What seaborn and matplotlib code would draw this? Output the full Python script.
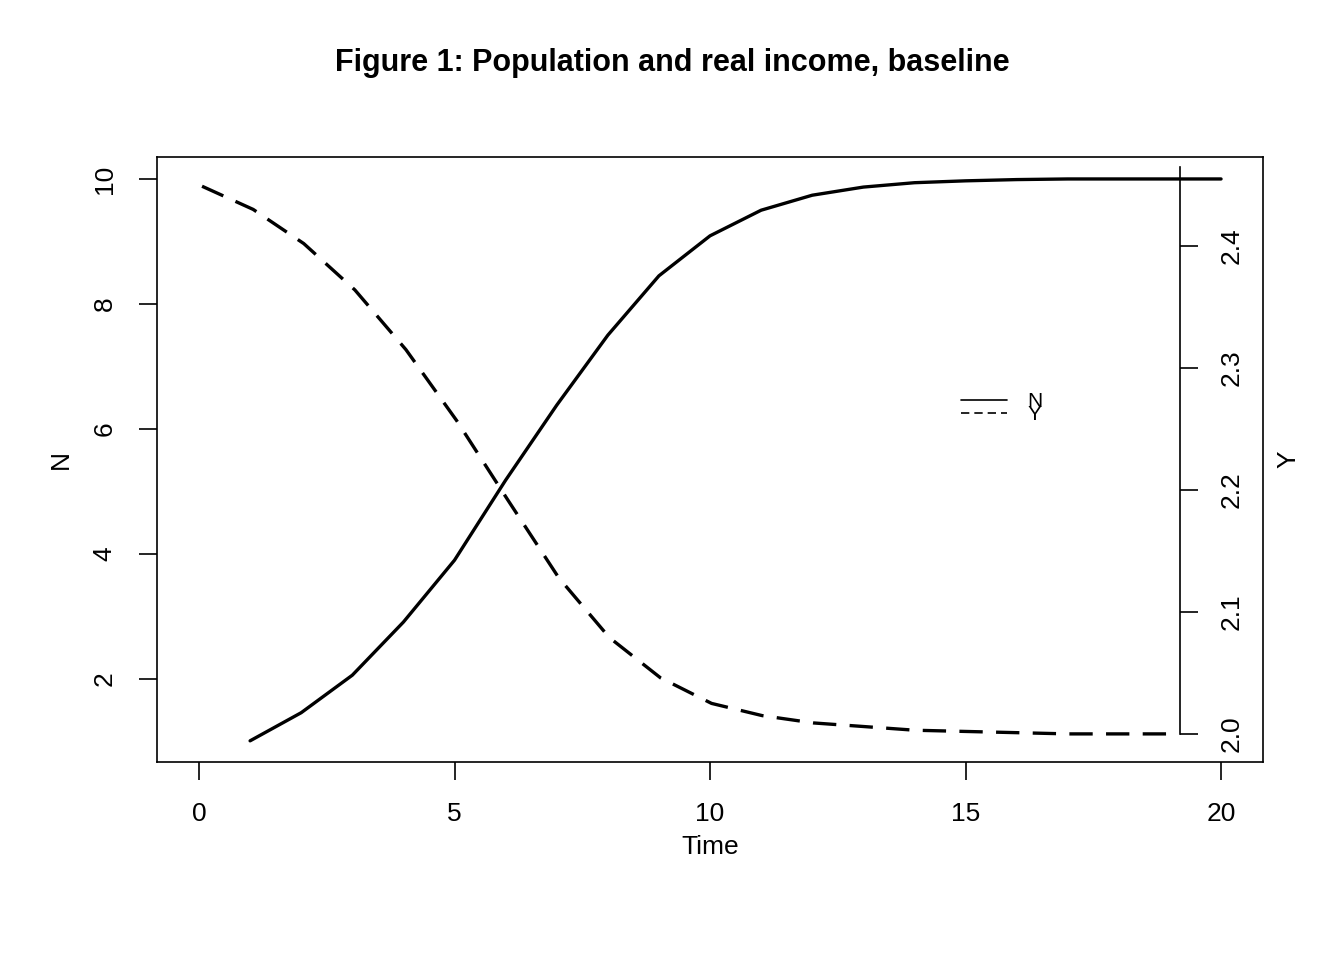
import numpy as np
import pandas as pd
import matplotlib
matplotlib.use("Agg")
import matplotlib.pyplot as plt
import seaborn as sns

# data
time_n = list(range(1, 21))
pop_n = [1.01, 1.46, 2.06, 2.91, 3.90, 5.18, 6.38, 7.50, 8.45, 9.09,
         9.50, 9.74, 9.87, 9.94, 9.97, 9.99, 10.0, 10.0, 10.0, 10.0]
time_y = [0.06, 1.06, 2.05, 3.05, 4.05, 5.04, 6.04, 7.04, 8.03, 9.03,
          10.03, 11.02, 12.02, 13.02, 14.01, 15.01, 16.01, 17.00, 18.00, 19.00]
income_y = [2.449, 2.430, 2.402, 2.364, 2.315, 2.257, 2.192, 2.128, 2.079, 2.046,
            2.025, 2.015, 2.009, 2.006, 2.003, 2.002, 2.001, 2.000, 2.000, 2.000]

sns.set_style("white")
plt.rcParams['font.family'] = ['Liberation Sans', 'DejaVu Sans']
plt.rcParams['font.size'] = 19
plt.rcParams['text.color'] = 'black'
plt.rcParams['axes.labelcolor'] = 'black'
plt.rcParams['xtick.color'] = 'black'
plt.rcParams['ytick.color'] = 'black'

fig = plt.figure(figsize=(13.44, 9.6), dpi=100)
ax = fig.add_axes([0.1168, 0.2063, 0.8229, 0.6302])

df_n = pd.DataFrame({'Time': time_n, 'N': pop_n})
sns.lineplot(data=df_n, x='Time', y='N', ax=ax, color='black', lw=2.4, legend=False)
ax.set_xlim(-0.822, 20.82)
ax.set_ylim(0.672, 10.352)
ax.set_xticks([0, 5, 10, 15, 20])
ax.set_yticks([2, 4, 6, 8, 10])
for lbl in ax.get_yticklabels():
    lbl.set_rotation(90)
    lbl.set_va('center')
ax.tick_params(direction='out', length=13, width=1.2, colors='black', labelsize=19, pad=16)
ax.tick_params(axis='both', which='both', bottom=True, left=True)
for s in ax.spines.values():
    s.set_color('black')
    s.set_linewidth(1.2)
ax.set_xlabel('Time', fontsize=19, labelpad=6)
ax.set_ylabel('N', fontsize=19, labelpad=14)

ax2 = ax.twinx()
df_y = pd.DataFrame({'Time': time_y, 'Y': income_y})
sns.lineplot(data=df_y, x='Time', y='Y', ax=ax2, color='black', lw=2.4,
             dashes=False, legend=False)
ax2.lines[0].set_dashes([7, 4])
ax2.set_ylim(1.977, 2.473)
ax2.set_xlim(-0.822, 20.82)
for k in ['top', 'bottom', 'left']:
    ax2.spines[k].set_visible(False)
ax2.spines['right'].set_position(('data', 19.19))
ax2.spines['right'].set_bounds(2.0, 2.465)
ax2.spines['right'].set_linewidth(1.2)
ax2.spines['right'].set_color('black')
ax2.set_yticks([2.0, 2.1, 2.2, 2.3, 2.4])
ax2.set_yticklabels(['2.0', '2.1', '2.2', '2.3', '2.4'], rotation=90, va='center')
ax2.tick_params(axis='y', direction='out', length=13, width=1.2, right=True,
                labelsize=19, pad=16, colors='black')
ax2.set_ylabel('Y', fontsize=19, rotation=90)
ax2.yaxis.set_label_coords(1.012, 0.5)

h1, = ax.plot([], [], color='black', lw=1.2)
h2, = ax.plot([], [], color='black', lw=1.2, dashes=[5, 3])
ax.legend([h1, h2], ['N', 'Y'], loc='center left', bbox_to_anchor=(0.71, 0.585),
          frameon=False, fontsize=15, handlelength=2.2, labelspacing=-0.3,
          handletextpad=1.0)

fig.suptitle('Figure 1: Population and real income, baseline', fontsize=22,
             fontweight='bold', y=0.95, color='black')

fig.savefig('out.png', dpi=100)
